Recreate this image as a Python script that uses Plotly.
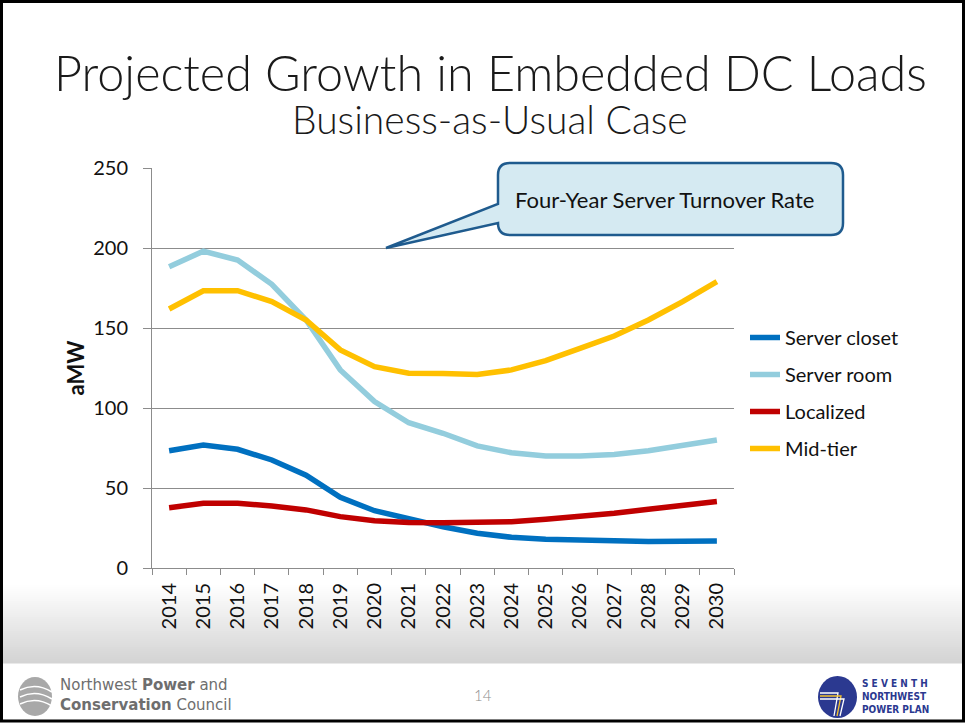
import plotly.graph_objects as go

# ---- data -------------------------------------------------------------
years = [str(y) for y in range(2014, 2031)]

server_closet = [73.3, 76.9, 74.2, 67.5, 58.0, 44.2, 35.8, 30.4, 25.8, 21.7,
                 19.2, 17.9, 17.3, 16.7, 16.5, 16.7, 16.9]
server_room = [188.3, 198.0, 192.5, 177.3, 155.0, 123.8, 104.0, 90.8, 84.2, 76.3,
               72.0, 70.0, 70.0, 71.0, 73.3, 76.3, 80.0]
localized = [37.7, 40.4, 40.4, 38.8, 36.3, 32.1, 29.6, 28.5, 28.3, 28.3,
             28.9, 30.4, 32.1, 34.2, 36.7, 39.0, 41.5]
mid_tier = [161.9, 173.3, 173.3, 166.5, 155.0, 136.3, 125.8, 121.7, 121.5, 121.0,
            123.8, 129.6, 137.3, 145.0, 155.0, 166.5, 179.0]

series = [
    ("Server closet", server_closet, "#0070C0"),
    ("Server room", server_room, "#93CDDD"),
    ("Localized", localized, "#C00000"),
    ("Mid-tier", mid_tier, "#FFC000"),
]

y_ticks = [0, 50, 100, 150, 200, 250]

# ---- page geometry ----------------------------------------------------
W, H = 965, 723
L, R, T, B = 152, 231, 168, 155
PW, PH = W - L - R, H - T - B


def px(x):
    """page pixel column -> paper x"""
    return (x - L) / PW


def py(y):
    """page pixel row -> paper y"""
    return (H - B - y) / PH


FONT = "Lato"
GRID = "#8C8C8C"

fig = go.Figure()
for i, (name, vals, col) in enumerate(series):
    fig.add_trace(go.Scatter(
        x=years, y=vals, name=name, mode="lines",
        line=dict(color=col, width=5.5),
        legendgroup=f"g{i}",
        hoverinfo="skip",
    ))

shapes = []

# bottom band gradient (white -> light grey)
g0, g1, steps = 585, 663, 39
for k in range(steps):
    t = (k + 0.5) / steps
    v = int(round(255 - t * (255 - 211)))
    y0 = g0 + (g1 - g0) * k / steps
    y1 = g0 + (g1 - g0) * (k + 1) / steps + 0.6
    shapes.append(dict(type="rect", xref="paper", yref="paper",
                       x0=px(0), x1=px(W), y0=py(y1), y1=py(y0),
                       fillcolor=f"rgb({v},{v},{v})", line=dict(width=0),
                       layer="below"))

# callout balloon
bx0, bx1, by0, by1, r = 498, 843, 163, 235, 12
tipx, tipy = 386, 248
pts = [
    ("M", tipx, tipy), ("L", bx0, 204), ("L", bx0, by0 + r),
    ("Q", bx0, by0, bx0 + r, by0), ("L", bx1 - r, by0),
    ("Q", bx1, by0, bx1, by0 + r), ("L", bx1, by1 - r),
    ("Q", bx1, by1, bx1 - r, by1), ("L", bx0 + r, by1),
    ("Q", bx0, by1, bx0, by1 - r), ("L", bx0, 223),
]
path = ""
for p in pts:
    cmd = p[0]
    coords = p[1:]
    parts = []
    for j in range(0, len(coords), 2):
        parts.append(f"{px(coords[j]):.5f},{py(coords[j + 1]):.5f}")
    path += cmd + " " + " ".join(parts) + " "
path += "Z"
shapes.append(dict(type="path", xref="paper", yref="paper", path=path,
                   fillcolor="#D5EAF2", line=dict(color="#1F5B8E", width=2.5),
                   layer="above"))

# footer logos (simple emblems)
shapes.append(dict(type="circle", xref="paper", yref="paper",
                   x0=px(18), x1=px(52), y0=py(716), y1=py(677),
                   fillcolor="#A8A8A8", line=dict(width=0)))
for yy in (690, 697, 704):
    shapes.append(dict(type="path", xref="paper", yref="paper",
                       path=f"M {px(20):.5f},{py(yy):.5f} Q {px(36):.5f},{py(yy - 8):.5f} {px(52):.5f},{py(yy + 2):.5f}",
                       line=dict(color="white", width=1.5)))
shapes.append(dict(type="circle", xref="paper", yref="paper",
                   x0=px(818), x1=px(857), y0=py(718), y1=py(676),
                   fillcolor="#2B3990", line=dict(width=0)))
for dx, colr in ((0, "#FFFFFF"), (3, "#F2C12E"), (6, "#FFFFFF")):
    shapes.append(dict(type="path", xref="paper", yref="paper",
                       path=f"M {px(820):.5f},{py(693 + dx):.5f} L {px(838 + dx):.5f},{py(693 + dx):.5f} L {px(834 + dx):.5f},{py(716):.5f}",
                       line=dict(color=colr, width=1.3)))

# slide border
shapes.append(dict(type="rect", xref="paper", yref="paper",
                   x0=px(1.5), x1=px(W - 1.5), y0=py(H - 2), y1=py(1.5),
                   line=dict(color="#000000", width=3), fillcolor="rgba(0,0,0,0)"))

annotations = [
    dict(text="Projected Growth in Embedded DC Loads", x=px(490), y=py(72),
         xref="paper", yref="paper", showarrow=False, xanchor="center", yanchor="middle",
         font=dict(family=FONT, size=48.5, color="#1A1A1A", weight=300)),
    dict(text="Business-as-Usual Case", x=px(490), y=py(119),
         xref="paper", yref="paper", showarrow=False, xanchor="center", yanchor="middle",
         font=dict(family=FONT, size=39, color="#1A1A1A", weight=300)),
    dict(text="Four-Year Server Turnover Rate", x=px(664), y=py(199),
         xref="paper", yref="paper", showarrow=False, xanchor="center", yanchor="middle",
         font=dict(family=FONT, size=22, color="#111111")),
    dict(text="Northwest <b>Power</b> and<br><b>Conservation</b> Council", x=px(58), y=py(695),
         xref="paper", yref="paper", showarrow=False, xanchor="left", yanchor="middle",
         align="left", font=dict(family="DejaVu Sans", size=15, color="#6E6E6E")),
    dict(text="14", x=px(483), y=py(695), xref="paper", yref="paper", showarrow=False,
         xanchor="center", yanchor="middle",
         font=dict(family=FONT, size=15, color="#8C8C8C", weight=300)),
    dict(text="<b>S E V E N T H<br>NORTHWEST<br>POWER PLAN</b>", x=px(860), y=py(696),
         xref="paper", yref="paper", showarrow=False, xanchor="left", yanchor="middle",
         align="left", font=dict(family="DejaVu Sans Condensed, DejaVu Sans", size=10, color="#2B3990")),
]

fig.update_layout(
    width=W, height=H,
    margin=dict(l=L, r=R, t=T, b=B, pad=0),
    paper_bgcolor="white", plot_bgcolor="white",
    font=dict(family=FONT, size=20, color="#111111"),
    showlegend=True,
    legend=dict(x=px(745), y=py(318), xanchor="left", yanchor="top",
                font=dict(family=FONT, size=20, color="#111111"),
                bgcolor="rgba(0,0,0,0)", traceorder="grouped",
                tracegroupgap=8, itemwidth=30),
    shapes=shapes,
    annotations=annotations,
)

fig.update_xaxes(
    type="category", categoryorder="array", categoryarray=years,
    range=[-0.5, len(years) - 0.5],
    showline=True, linecolor=GRID, linewidth=1,
    ticks="outside", ticklen=6, tickcolor=GRID, tickson="boundaries",
    tickangle=-90, showgrid=False, ticklabelstandoff=6,
    tickfont=dict(family=FONT, size=20, color="#111111"),
)
fig.update_yaxes(
    range=[0, 250], tickvals=y_ticks,
    showline=True, linecolor=GRID, linewidth=1,
    ticks="outside", ticklen=8, tickcolor=GRID,
    showgrid=True, gridcolor=GRID, gridwidth=1, zeroline=False,
    ticklabelstandoff=11,
    tickfont=dict(family=FONT, size=20, color="#111111"),
    title=dict(text="<b>aMW</b>", standoff=2, font=dict(family=FONT, size=22, color="#111111")),
)

fig.write_html("out.html")
